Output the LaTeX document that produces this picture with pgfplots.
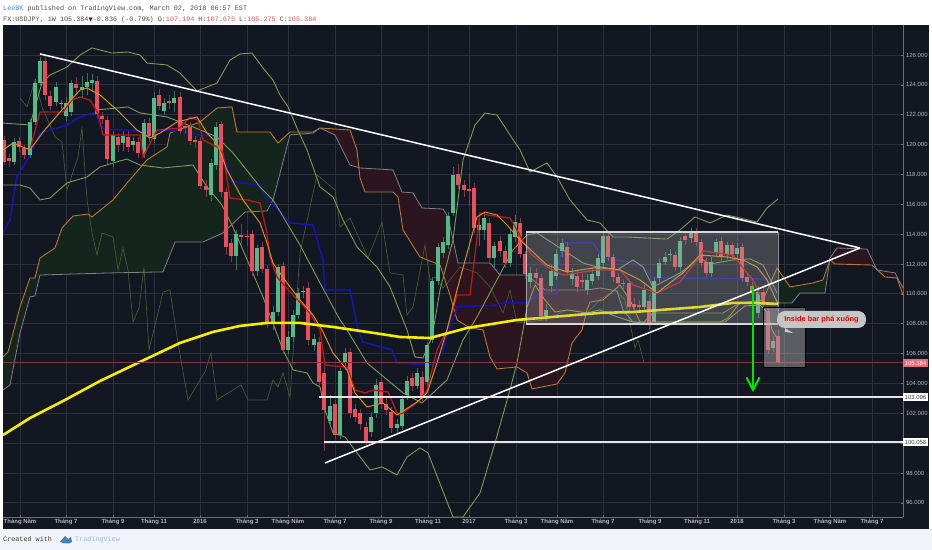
\documentclass[border=0pt]{standalone}
\usepackage{fontspec}
\usepackage{pgfplots}
\usepackage{pgfplotstable}
\pgfplotsset{compat=1.18}
\setmainfont{Liberation Sans}
\newfontfamily\hdr{Liberation Mono}
\newfontfamily\djv{DejaVu Sans}
\definecolor{bg}{HTML}{131722}
\definecolor{gridc}{HTML}{2C303C}
\definecolor{upc}{HTML}{53B987}
\definecolor{dnc}{HTML}{EB4D5C}
\definecolor{upw}{HTML}{3F6F5C}
\definecolor{dnw}{HTML}{7A3A48}
\definecolor{bandc}{HTML}{7E9A55}
\definecolor{chik}{HTML}{4A5632}
\definecolor{spanA}{HTML}{B9782B}
\definecolor{spanB}{HTML}{7F8085}
\definecolor{tenk}{HTML}{C01515}
\definecolor{kij}{HTML}{1414B4}
\definecolor{sma}{HTML}{D98E1F}
\definecolor{yel}{HTML}{F6F000}
\definecolor{cgreen}{HTML}{14251D}
\definecolor{cred}{HTML}{2B151F}
\definecolor{lab}{HTML}{B2B5BE}
\definecolor{foot}{HTML}{F0F3F7}
\definecolor{ovl}{HTML}{A4A4A4}

\pgfplotstableread{
x bot top low high
14 118.85 120.19 118.60 120.45
30 119.30 121.53 119.10 121.70
35 121.53 124.10 121.30 124.40
40 124.10 125.62 123.90 125.85
56 122.87 123.83 122.60 124.20
61 122.72 122.81 122.40 123.00
66 121.91 122.81 121.60 123.20
71 122.20 124.10 121.90 124.30
82 123.65 123.83 123.20 124.60
87 123.83 124.21 123.30 124.80
92 124.10 124.32 123.50 124.70
113 118.92 120.64 118.50 120.90
123 120.08 120.57 119.60 120.90
133 119.97 120.24 119.60 120.50
144 119.37 121.47 119.10 121.70
154 120.35 123.14 120.10 123.50
164 122.27 122.76 122.00 123.10
174 122.81 123.14 122.20 123.60
211 116.62 118.74 116.20 119.00
216 118.63 121.15 118.30 121.50
236 112.54 113.99 111.60 114.30
257 111.54 113.05 111.20 113.30
273 107.99 108.75 107.60 109.20
278 108.75 111.78 108.50 112.00
288 106.25 107.14 106.00 107.50
293 107.09 108.59 106.80 108.90
298 108.59 110.08 108.30 110.40
303 110.13 110.22 109.70 110.50
314 106.57 106.98 106.20 107.30
330 101.48 102.49 101.20 103.20
340 100.54 104.83 100.30 105.00
345 105.37 106.04 104.90 106.40
371 100.74 101.75 100.40 102.10
376 102.02 103.90 101.70 104.30
397 101.01 101.28 100.70 101.60
402 101.15 102.96 100.90 103.20
407 103.22 104.16 102.90 104.50
417 103.83 104.70 103.60 105.00
427 104.09 106.57 103.80 106.80
432 106.91 110.86 106.70 111.10
438 110.86 113.14 110.60 113.40
443 112.73 113.47 112.40 113.80
448 113.27 115.21 113.00 115.50
453 115.41 117.96 115.20 118.50
479 114.27 114.61 113.20 115.10
484 114.27 115.08 113.60 115.50
494 112.40 113.20 111.70 113.50
510 112.06 114.01 111.80 114.30
515 113.81 114.81 113.50 115.30
530 110.79 111.39 110.40 111.80
546 108.51 108.92 108.20 109.30
551 110.52 111.53 110.10 111.90
556 111.19 112.67 110.90 113.00
562 112.87 113.41 112.50 113.70
572 110.99 111.33 110.60 111.70
587 110.26 110.93 109.90 111.30
592 110.86 111.33 110.60 111.70
598 111.19 112.40 110.90 112.70
603 112.06 113.87 111.80 114.10
644 109.12 110.26 108.80 110.60
654 108.12 110.86 107.90 111.10
659 111.06 112.06 110.80 112.40
665 112.13 112.47 111.90 112.80
670 112.60 112.67 112.20 113.00
680 111.80 113.54 111.50 113.80
691 113.74 114.07 113.40 114.40
711 111.39 112.13 111.10 112.50
716 112.80 113.47 112.50 113.70
727 112.67 113.27 112.30 113.50
737 112.67 113.07 112.30 113.40
758 108.72 110.12 108.40 110.50
773 106.37 106.84 106.10 107.20
}\upT

\pgfplotstableread{
x bot top low high
4 118.85 120.31 118.60 120.60
9 118.90 119.08 118.50 119.40
19 119.86 120.26 119.50 120.50
24 119.30 119.75 119.00 120.00
45 123.32 125.62 123.00 125.90
50 122.58 123.25 122.30 123.60
76 123.76 124.06 123.30 124.50
97 122.05 124.26 121.80 124.60
102 121.71 121.91 121.40 122.20
107 119.01 121.64 118.70 121.90
118 119.97 120.53 119.50 120.80
128 119.86 120.53 119.50 120.90
138 119.41 120.19 119.10 120.50
149 120.57 121.47 120.20 121.80
159 122.58 123.30 122.30 123.70
169 122.81 122.89 122.40 123.30
180 120.93 123.21 120.70 123.50
185 121.09 121.24 120.70 121.60
190 120.26 121.20 120.00 121.50
195 120.19 120.31 119.80 120.60
200 117.22 120.24 117.00 120.50
206 116.96 117.22 116.50 117.60
221 116.85 121.35 116.50 121.60
226 113.14 116.82 112.60 117.10
231 112.54 113.43 112.10 113.70
241 113.79 113.95 113.30 114.70
247 113.79 113.90 113.20 114.30
252 111.54 114.01 111.20 114.30
262 111.65 113.17 111.40 113.50
267 108.03 111.65 107.70 111.90
283 106.25 111.87 106.00 112.10
308 106.91 110.42 106.60 110.80
319 104.10 106.77 103.80 107.10
324 102.22 104.70 99.50 105.20
335 100.54 102.62 100.30 102.90
350 102.02 106.10 101.70 106.40
355 101.75 102.29 101.40 102.60
360 101.28 102.02 100.90 102.30
366 100.14 101.08 99.90 101.40
381 102.62 104.09 102.30 104.50
386 102.22 102.62 101.90 103.00
391 101.01 102.09 100.70 102.40
412 103.83 104.36 103.50 104.70
422 103.09 104.43 102.80 104.80
458 117.29 118.03 117.00 118.70
464 116.96 117.29 116.50 117.60
469 116.89 117.02 115.90 118.00
474 114.41 117.09 114.10 117.40
489 112.40 114.74 112.10 115.10
500 112.87 113.54 112.50 113.90
505 112.06 112.87 111.70 113.20
520 112.67 114.74 112.40 115.10
525 111.33 112.67 111.00 112.90
536 111.06 111.39 110.70 111.70
541 108.51 111.06 108.20 111.30
567 111.46 113.14 111.20 113.50
577 110.46 111.19 110.10 111.50
582 110.79 110.93 110.40 111.30
608 112.47 113.87 112.20 114.10
613 111.13 112.47 110.80 112.70
618 110.73 111.13 110.40 111.40
623 110.66 110.73 110.30 111.00
629 109.12 110.73 108.80 111.00
634 109.12 109.32 108.70 109.70
639 109.12 109.25 108.70 109.60
649 107.91 109.52 107.60 109.90
675 111.80 112.60 111.50 112.90
685 113.60 113.87 113.30 114.20
696 113.47 114.07 113.20 114.40
701 112.06 113.47 111.80 113.70
706 111.39 112.13 111.10 112.40
721 112.54 113.54 112.20 113.80
732 112.67 113.27 112.30 113.50
742 111.06 113.14 110.80 113.40
747 110.79 111.13 110.50 111.40
752 110.05 110.52 109.80 110.80
763 109.25 110.12 108.90 110.50
768 106.24 108.85 106.00 109.10
778 105.37 107.18 105.27 107.67
}\dnT

\pgfplotstableread{
x y
3 105.77
8 106.10
20 109.12
30 111.06
35 111.06
40 112.40
55 113.07
62 114.41
73 115.21
88 115.35
92 115.15
98 115.48
113 116.29
127 117.42
147 118.97
167 119.84
170 120.77
200 121.51
217 122.45
232 122.52
237 120.84
270 120.84
278 120.10
290 120.84
313 120.84
320 121.11
350 120.97
357 119.64
360 117.76
365 116.82
393 116.82
398 116.49
403 114.28
420 112.47
440 111.93
450 109.92
457 108.25
470 107.72
483 107.58
490 105.77
497 104.97
517 105.10
527 104.70
532 103.63
557 103.96
565 104.70
572 106.71
582 107.58
587 108.92
590 109.45
603 109.59
620 110.59
630 109.59
640 108.11
720 108.11
728 108.38
740 109.39
763 109.59
777 111.73
790 110.46
813 110.73
823 110.93
830 112.27
835 112.00
872 111.93
885 111.13
897 111.06
903 109.92
}\spanAT

\pgfplotstableread{
x y
3 103.56
10 103.89
20 107.38
30 109.79
35 109.86
40 111.26
110 111.40
163 111.47
175 113.47
203 113.47
223 114.08
245 115.48
267 115.55
273 116.29
290 120.64
313 120.77
320 121.11
335 120.64
350 118.63
360 118.43
393 118.30
402 116.82
413 116.76
422 115.75
443 115.68
448 115.15
458 112.07
490 112.07
500 111.26
527 111.26
545 110.26
563 110.26
587 110.26
600 110.39
617 110.19
623 108.92
633 108.11
643 108.05
653 108.72
723 108.72
740 109.39
777 109.39
792 109.39
800 110.06
825 110.06
830 112.40
837 113.07
867 113.00
877 111.60
895 111.40
903 110.39
}\spanBT

\begin{document}
\begin{tikzpicture}[x=1bp,y=1bp]
\path[use as bounding box] (0,0) rectangle (932,550);
\fill[white] (0,0) rectangle (932,550);
\fill[foot] (0,0) rectangle (932,21);
\fill[bg] (3,21) rectangle (929,525);

\begin{axis}[
  at={(3bp,33bp)},anchor=south west,
  scale only axis,width=900bp,height=492bp,
  xmin=3,xmax=903,ymin=95.05,ymax=128.01,
  axis x line*=bottom,axis y line*=right,
  axis line style={draw=gridc!70!white,line width=.6pt},
  grid=major,grid style={gridc,line width=.7pt},
  ytick={96,98,100,102,104,106,108,110,112,114,116,118,120,122,124,126},
  xtick={20,66,113,154,200,247,288,335,381,428,469,516,557,603,650,697,737,784,830,872},
  xticklabels={Tháng Năm,Tháng 7,Tháng 9,Tháng 11,2016,Tháng 3,Tháng Năm,Tháng 7,Tháng 9,Tháng 11,2017,Tháng 3,Tháng Năm,Tháng 7,Tháng 9,Tháng 11,2018,Tháng 3,Tháng Năm,Tháng 7},
  tick style={draw=gridc!70!white,line width=.5pt},
  major tick length=2bp,
  xticklabel style={font=\fontsize{6}{7}\selectfont\bfseries,text=lab,yshift=1.5bp},
  yticklabel style={font=\fontsize{6}{7}\selectfont,text=lab,xshift=-.5bp},
  /pgf/number format/fixed,/pgf/number format/fixed zerofill,/pgf/number format/precision=3,
  /pgf/number format/1000 sep={},/pgf/number format/assume math mode=true,
]
% cloud fills: span A forward, span B back
\addplot[fill=cgreen,draw=none,forget plot] coordinates {(3,105.77)(8,106.10)(20,109.12)(30,111.06)(35,111.06)(40,112.40)(55,113.07)(62,114.41)(73,115.21)(88,115.35)(92,115.15)(98,115.48)(113,116.29)(127,117.42)(147,118.97)(167,119.84)(170,120.77)(200,121.51)(217,122.45)(232,122.52)(237,120.84)(270,120.84)(278,120.10)(290,120.84)(313,120.84)(320,121.11)(320,121.11)(313,120.77)(290,120.64)(273,116.29)(267,115.55)(245,115.48)(223,114.08)(203,113.47)(175,113.47)(163,111.47)(110,111.40)(40,111.26)(35,109.86)(30,109.79)(20,107.38)(10,103.89)(3,103.56)} -- cycle;
\addplot[fill=cred,draw=none,forget plot] coordinates {(320,121.11)(350,120.97)(357,119.64)(360,117.76)(365,116.82)(393,116.82)(398,116.49)(403,114.28)(420,112.47)(440,111.93)(450,109.92)(457,108.25)(470,107.72)(483,107.58)(490,105.77)(497,104.97)(517,105.10)(527,104.70)(532,103.63)(557,103.96)(565,104.70)(572,106.71)(582,107.58)(587,108.92)(590,109.45)(603,109.59)(610,110.25)(600,110.39)(587,110.26)(563,110.26)(545,110.26)(527,111.26)(500,111.26)(490,112.07)(458,112.07)(448,115.15)(443,115.68)(422,115.75)(413,116.76)(402,116.82)(393,118.30)(360,118.43)(350,118.63)(335,120.64)} -- cycle;
\addplot[fill=cgreen,draw=none,forget plot] coordinates {(610,110.25)(620,110.59)(630,109.59)(640,108.11)(720,108.11)(728,108.38)(740,109.39)(763,109.59)(777,111.73)(790,110.46)(813,110.73)(823,110.93)(829,112.00)(825,110.06)(800,110.06)(792,109.39)(777,109.39)(740,109.39)(723,108.72)(653,108.72)(643,108.05)(633,108.11)(623,108.92)(617,110.19)} -- cycle;
\addplot[fill=cred,draw=none,forget plot] coordinates {(829,112.00)(830,112.40)(837,113.07)(867,113.00)(877,111.60)(895,111.40)(903,110.39)(903,109.92)(897,111.06)(885,111.13)(872,111.93)(835,112.00)} -- cycle;
% chikou
\addplot[chik,line width=.7pt,forget plot] coordinates {(20,123.12)(27,122.52)(35,124.32)(42,122.52)(55,120.51)(62,120.17)(67,116.96)(78,119.17)(82,121.11)(87,116.29)(92,114.08)(97,112.60)(102,114.08)(113,113.81)(118,111.60)(123,113.07)(128,111.60)(133,108.11)(139,109.05)(144,111.80)(149,106.24)(163,110.12)(170,110.26)(178,106.71)(188,102.89)(205,104.77)(211,106.04)(217,102.89)(241,103.90)(248,102.89)(267,102.89)(273,104.23)(278,103.76)(283,104.70)(290,103.09)(300,112.74)(317,117.96)(335,116.96)(337,116.09)(340,114.48)(350,115.08)(368,112.40)(382,114.81)(390,111.40)(403,111.26)(407,108.58)(413,109.12)(425,113.27)(430,110.93)(435,111.13)(443,110.39)(450,110.93)(460,111.80)(477,111.40)(490,110.46)(503,108.72)(510,110.26)(517,108.05)(545,108.25)(567,108.92)(587,108.72)(600,109.59)(615,110.26)(625,109.59)(630,108.05)(635,106.37)(638,106.91)(644,105.37)};
% spans
\addplot[spanA,line width=.9pt,forget plot] table[x=x,y=y]{\spanAT};
\addplot[spanB,line width=.8pt,forget plot] table[x=x,y=y]{\spanBT};
% kijun
\addplot[kij,line width=1.5pt,forget plot] coordinates {(3,114.08)(10,114.95)(13,116.29)(17,117.83)(30,119.30)(40,120.77)(67,121.31)(80,121.85)(97,122.18)(100,121.31)(105,121.04)(143,120.91)(180,120.91)(200,120.64)(218,120.51)(227,118.50)(233,117.49)(260,117.29)(267,116.29)(277,115.75)(290,114.75)(313,114.61)(323,112.27)(325,110.26)(350,110.26)(358,107.58)(363,106.77)(392,106.24)(397,105.37)(433,105.23)(443,106.24)(447,107.11)(457,109.12)(497,109.25)(503,109.39)(527,109.39)(540,110.06)(557,109.99)(558,111.80)(563,113.41)(593,113.41)(603,112.40)(630,112.13)(643,111.80)(653,111.06)(767,110.99)(777,109.92)};
% Bollinger bands
\addplot[bandc,line width=.9pt,forget plot] coordinates {(3,121.44)(30,121.31)(37,122.98)(42,124.12)(50,124.66)(67,125.19)(80,126.00)(92,126.47)(112,126.13)(128,126.20)(140,126.00)(147,125.46)(167,125.33)(180,124.79)(197,123.59)(217,124.12)(230,125.66)(240,126.07)(252,126.13)(263,125.13)(273,124.32)(280,123.32)(288,122.52)(297,121.11)(307,119.64)(320,117.16)(333,116.49)(343,114.95)(357,113.14)(377,111.80)(390,110.46)(407,107.58)(415,105.77)(423,105.71)(432,107.11)(440,110.26)(453,113.61)(463,118.97)(475,121.31)(485,122.11)(497,121.98)(510,120.64)(520,119.64)(530,118.16)(547,118.77)(557,117.83)(570,116.29)(587,114.95)(600,114.75)(613,113.81)(627,113.81)(667,113.67)(680,114.28)(695,115.15)(710,114.75)(727,115.28)(740,115.08)(757,114.81)(767,115.75)(778,116.35)};
\addplot[bandc,line width=.9pt,forget plot] coordinates {(97,122.32)(128,122.52)(140,122.12)(167,121.85)(193,121.18)(217,120.51)(233,119.44)(260,117.16)(273,116.29)(300,113.27)(320,110.73)(340,108.25)(347,107.58)(367,105.37)(403,103.36)(422,102.69)(447,104.23)(463,106.91)(477,108.45)(513,112.94)(527,113.94)(537,114.08)(560,113.07)(583,112.07)(600,111.73)(617,111.60)(633,112.27)(643,111.80)(653,110.46)(680,111.39)(700,112.40)(710,112.00)(733,112.27)(750,112.34)(763,111.93)(777,110.06)};
\addplot[bandc,line width=.9pt,forget plot] coordinates {(3,117.29)(20,117.29)(30,117.09)(40,116.29)(50,116.42)(67,117.43)(87,117.83)(100,118.50)(120,118.90)(127,119.03)(140,118.63)(163,118.43)(193,118.63)(207,117.16)(222,115.95)(232,114.61)(243,112.94)(263,109.79)(283,106.24)(293,104.90)(307,104.70)(313,104.03)(320,103.76)(325,102.22)(333,100.68)(345,100.41)(370,98.20)(382,98.40)(397,97.87)(407,99.07)(420,99.68)(428,99.34)(453,95.05)(463,95.05)(480,96.66)(495,100.01)(508,103.09)(517,105.37)(523,107.58)(527,109.12)(535,110.59)(545,109.59)(555,108.78)(567,108.92)(587,108.72)(600,108.92)(615,108.51)(633,108.11)(665,108.11)(725,108.11)(745,109.19)(760,109.25)(768,108.72)(772,107.58)(778,106.91)};
% wicks
\addplot[draw=none,no markers,forget plot,error bars/.cd,y dir=plus,y explicit,error mark=none,error bar style={draw,line width=.5bp,color=upw}] table[x=x,y=low,y error plus expr=\thisrow{high}-\thisrow{low}]{\upT};
\addplot[draw=none,no markers,forget plot,error bars/.cd,y dir=plus,y explicit,error mark=none,error bar style={draw,line width=.5bp,color=dnw}] table[x=x,y=low,y error plus expr=\thisrow{high}-\thisrow{low}]{\dnT};
% bodies
\addplot[draw=none,no markers,forget plot,error bars/.cd,y dir=plus,y explicit,error mark=none,error bar style={draw,line width=4.2bp,color=upc}] table[x=x,y=bot,y error plus expr=\thisrow{top}-\thisrow{bot}]{\upT};
\addplot[draw=none,no markers,forget plot,error bars/.cd,y dir=plus,y explicit,error mark=none,error bar style={draw,line width=4.2bp,color=dnc}] table[x=x,y=bot,y error plus expr=\thisrow{top}-\thisrow{bot}]{\dnT};
% tenkan and moving averages
\addplot[tenk,line width=1.3pt,forget plot] coordinates {(30,119.64)(37,121.44)(40,122.18)(63,122.18)(72,122.98)(80,123.19)(90,122.98)(98,122.11)(103,120.64)(140,120.64)(143,119.17)(157,120.97)(180,121.11)(190,121.85)(198,121.64)(203,120.31)(217,119.84)(223,119.44)(230,116.42)(247,116.29)(260,116.09)(267,114.08)(270,112.47)(277,111.13)(293,109.92)(310,108.72)(320,107.58)(325,105.23)(347,105.10)(355,103.56)(365,103.36)(373,103.56)(388,103.43)(398,101.89)(403,102.02)(420,102.89)(427,103.56)(437,106.24)(447,107.58)(457,109.92)(470,109.92)(480,115.41)(487,115.28)(510,115.08)(513,114.74)(530,112.73)(547,111.80)(563,111.26)(597,111.60)(620,111.60)(633,110.59)(657,110.06)(680,110.79)(697,112.27)(703,112.87)(733,112.60)(747,111.40)(753,110.93)(760,109.92)};
\addplot[sma,line width=1pt,forget plot] coordinates {(3,119.64)(13,120.10)(30,119.64)(43,120.84)(62,122.32)(80,123.65)(87,123.79)(100,123.32)(117,122.32)(137,120.97)(150,120.44)(160,120.77)(177,121.51)(197,121.85)(207,120.77)(217,120.10)(227,118.29)(243,116.29)(260,114.75)(267,113.41)(273,112.06)(287,110.73)(300,109.59)(313,108.58)(322,107.58)(333,106.04)(347,104.90)(355,103.36)(367,102.42)(383,102.69)(397,101.89)(417,102.75)(427,103.36)(437,105.37)(447,107.58)(457,110.26)(477,115.15)(485,115.48)(497,115.28)(507,114.61)(520,113.61)(547,111.93)(567,111.46)(600,111.80)(620,111.60)(640,110.93)(657,110.06)(683,111.40)(700,112.60)(727,112.47)(743,112.27)(757,111.80)(767,110.93)(778,109.32)};
\addplot[yel,line width=2.6pt,forget plot] coordinates {(3,100.54)(30,101.68)(65,102.89)(100,104.16)(140,105.44)(180,106.71)(213,107.45)(240,107.85)(267,108.05)(300,108.05)(333,107.78)(367,107.45)(400,107.11)(430,107.04)(467,107.71)(517,108.25)(600,108.72)(633,108.78)(700,109.12)(733,109.39)(755,109.39)(778,109.32)};
% last price line
\addplot[dnc!55!bg,line width=.7pt,forget plot] coordinates {(3,105.384)(903,105.384)};
% drawings
\fill[ovl,opacity=.32] (axis cs:526,107.98) rectangle (axis cs:778,114.14);
\draw[white,opacity=.5,line width=.4pt] (axis cs:526,107.98) -- (axis cs:526,114.14) (axis cs:778,107.98) -- (axis cs:778,114.14);
\addplot[white!85!black,line width=1.5pt,forget plot] coordinates {(526,114.14)(778,114.14)};
\addplot[white!85!black,line width=1.5pt,forget plot] coordinates {(526,107.98)(778,107.98)};
\filldraw[fill=ovl,fill opacity=.5,draw=black,line width=.8pt] (axis cs:763,105.10) rectangle (axis cs:805,109.12);
\addplot[white,line width=1.5pt,forget plot] coordinates {(40,126.07)(860,113.07)};
\addplot[white,line width=1.5pt,forget plot] coordinates {(325,98.67)(860,113.07)};
\addplot[white!90!black,line width=1.5pt,forget plot] coordinates {(319,103.096)(903,103.096)};
\addplot[white!90!black,line width=1.5pt,forget plot] coordinates {(324,100.058)(903,100.058)};
\draw[green!90!black,line width=2pt] (axis cs:753,110.53) -- (axis cs:753,103.60);
\draw[green!90!black,line width=2pt] (axis cs:746.5,104.40) -- (axis cs:753,103.56) -- (axis cs:759.5,104.40);
\end{axis}

% bubble
\fill[gray!45!white] (785,222) -- (793,217) -- (785,218) -- cycle;
\node[draw=none,fill=gray!45!white,rounded corners=8pt,minimum width=89bp,minimum height=17bp,inner sep=0pt,
  text=red!90!black,font=\fontsize{7.4}{8}\selectfont\bfseries] at (821.5,230.5) {Inside bar phá xuống};

% price tags
\fill[dnc!85!white] (903,183) rectangle (928,191);
\node[text=white,font=\fontsize{6}{7}\selectfont] at (915.5,187) {105.384};
\fill[white] (903,149) rectangle (928,156.5);
\node[text=black!75,font=\fontsize{6}{7}\selectfont] at (915.5,152.8) {103.096};
\fill[white] (903,104) rectangle (928,111.5);
\node[text=black!75,font=\fontsize{6}{7}\selectfont] at (915.5,107.8) {100.058};

% header
\node[anchor=base west,inner sep=0pt,font=\hdr\fontsize{6.8}{8}\selectfont,text=black!70] at (3,539.5)
  {\textcolor{blue!35!cyan!60!gray}{LeeBK} published on TradingView.com, March 02, 2018 06:57 EST};
\node[anchor=base west,inner sep=0pt,font=\hdr\fontsize{6.8}{8}\selectfont,text=black!70] at (3,528.5)
  {FX:USDJPY, 1W 105.384{\djv\fontsize{5.5}{6}\selectfont\textcolor{red!55!black}{▼}}\mbox{-}0.836 (-0.79\%) O:\textcolor{dnc}{107.194} H:\textcolor{dnc}{107.675} L:\textcolor{dnc}{105.275} C:\textcolor{dnc}{105.384}};

% footer
\node[anchor=base west,inner sep=0pt,font=\hdr\fontsize{6.8}{8}\selectfont,text=black!75] at (3,8.5) {Created with};
\fill[cyan!55!blue!70!gray] (60,8) -- (65,14) -- (68,11) -- (71,13) -- (72,8) -- (69,6.5) -- (64,6.5) -- cycle;
\node[anchor=base west,inner sep=0pt,font=\hdr\fontsize{6.8}{8}\selectfont,text=cyan!50!blue!40!white] at (75,8.5) {TradingView};
\end{tikzpicture}
\end{document}
